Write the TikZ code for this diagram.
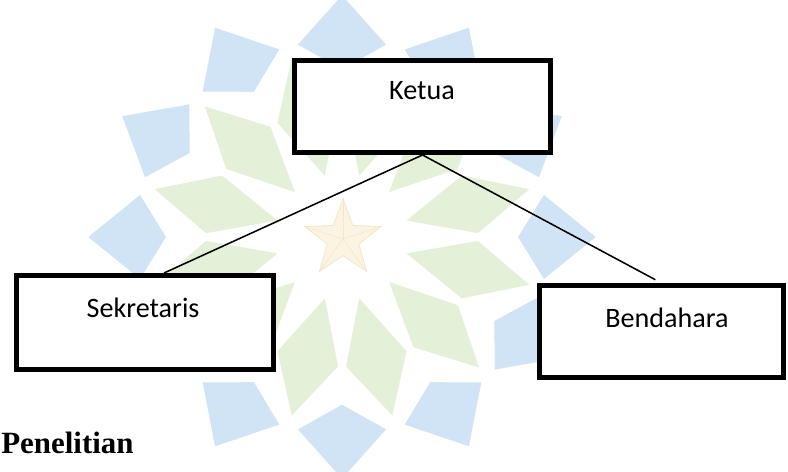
\documentclass[tikz,border=0pt]{standalone}
\usepackage{fontspec}
\usepackage{tikz}
\usetikzlibrary{shapes.geometric}
\newfontfamily\boxfont{Carlito}
\newfontfamily\headfont{Liberation Serif}

\definecolor{logoblue}{RGB}{208,228,245}
\definecolor{logogreen}{RGB}{229,240,217}
\definecolor{logostar}{RGB}{252,244,226}
\definecolor{logoedge}{RGB}{245,230,203}

\tikzset{
	box/.style={draw,line width=3.5pt,fill=white},
	boxtext/.style={anchor=base,inner sep=0pt,font=\boxfont\fontsize{20}{24}\selectfont},
	conn/.style={line width=1.1pt},
	blueleaf/.style={fill=logoblue,draw=white,line width=2pt},
	greenleaf/.style={fill=logogreen,draw=white,line width=2pt}}

\begin{document}
\begin{tikzpicture}[x=0.025cm,y=-0.025cm]
	\useasboundingbox(0,0) rectangle (788,472);
	% logo behind the chart
	\begin{scope}[shift={(342,237)},xscale=1.05]
		\foreach \a in {0,30,...,330}{
			\filldraw[blueleaf](\a:166)--(\a+13:197)--(\a:244)--(\a-13:197)--cycle;
			\filldraw[greenleaf](\a+15:60)--(\a+1:130)--(\a+15:188)--(\a+29:130)--cycle;
		}
	\end{scope}
	\node[star,star points=5,star point ratio=2.4,minimum size=2cm,
		fill=logostar,draw=logoedge,line width=0.6pt](z) at (343,239){};
	\foreach \p in {1,...,5}
		\draw[logoedge,line width=0.4pt](z.center)--(z.outer point \p);
	% boxes
	\node[box,minimum width=6.4cm,minimum height=2.3cm](k) at (422.5,106.5){};
	\node[box,minimum width=6.425cm,minimum height=2.35cm](s) at (145,322.5){};
	\node[box,minimum width=6.1cm,minimum height=2.3cm](b) at (661.5,331.5){};
	\node[boxtext](kt) at (422,100){Ketua};
	\node[boxtext](st) at (143,317){Sekretaris};
	\node[boxtext](bt) at (667,327){Bendahara};
	\draw[conn](k.south)--(s.69);
	\draw[conn,shorten >=5pt](k.south)--(b.north);
	\node[anchor=base west,inner sep=0pt,font=\headfont\bfseries\fontsize{22}{26}\selectfont](h) at (1,453){Penelitian};
\end{tikzpicture}
\end{document}
